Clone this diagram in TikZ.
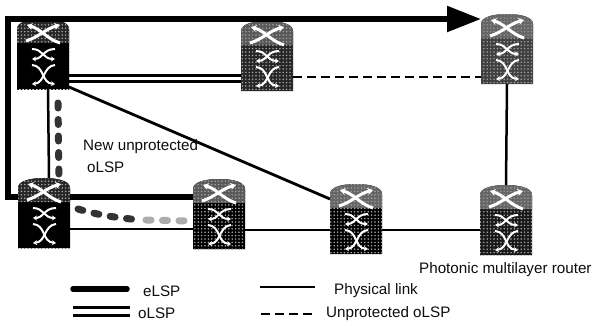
\documentclass[tikz,border=0pt]{standalone}
\usepackage{fontspec}
\setmainfont{Liberation Sans}
\usetikzlibrary{arrows.meta,patterns}
\pgfdeclarepatternformonly{routerdots}{\pgfqpoint{-1pt}{-1pt}}{\pgfqpoint{3pt}{3pt}}{\pgfqpoint{3.4pt}{3.4pt}}{%
  \pgfpathcircle{\pgfqpoint{1pt}{1pt}}{0.85pt}\pgfusepath{fill}}
\tikzset{
  routerbox/.style={rectangle,minimum width=52pt,minimum height=70pt,inner sep=0pt,outer sep=0pt},
  icon/.style={draw=white,line width=2pt,-{Stealth[length=4pt,width=5pt]}},
  iconb/.style={draw=white,line width=3pt,-{Stealth[length=5.5pt,width=7pt]}},
  elsp/.style={line width=5.5pt,black},
  olspline/.style={line width=3pt,black},
  phys/.style={line width=2.5pt,black},
  unprot/.style={line width=2.5pt,black,dash pattern=on 9pt off 5pt},
  newdark/.style={line width=7pt,line cap=round,gray!40!black,dash pattern=on 5pt off 11.5pt},
  newlight/.style={line width=7pt,line cap=round,gray!65,dash pattern=on 5pt off 11.5pt},
  lbl/.style={inner sep=0pt,font=\fontsize{15.2pt}{17pt}\selectfont,anchor=west,text=black!95}
}
\newcommand{\routerat}[7]{% name, left, top, top dots, body dots, body base, top base
  \node[routerbox] (#1) at (#2+26,#3+35) {};
  \begin{scope}[shift={(#2,#3)}]
    \fill[#6] (0,70) -- (0,10) .. controls (0,3) and (12,0) .. (26,0) .. controls (40,0) and (52,3) .. (52,10) -- (52,70) -- cycle;
    \fill[#7] (0,24) -- (0,10) .. controls (0,3) and (12,0) .. (26,0) .. controls (40,0) and (52,3) .. (52,10) -- (52,24) -- cycle;
    \fill[pattern=routerdots,pattern color=#5] (0,70) -- (0,24) -- (52,24) -- (52,70) -- cycle;
    \fill[pattern=routerdots,pattern color=#4] (0,24) -- (0,10) .. controls (0,3) and (12,0) .. (26,0) .. controls (40,0) and (52,3) .. (52,10) -- (52,24) -- cycle;
    \path[iconb] (9,22) .. controls (22,18) and (28,10) .. (43,6);
    \path[iconb] (43,24) .. controls (30,20) and (24,10) .. (10,6);
    \path[icon] (15,30) .. controls (26,30) and (26,40) .. (38,40);
    \path[icon] (38,30) .. controls (26,30) and (26,40) .. (15,40);
    \path[icon] (15,46) .. controls (28,47) and (24,64) .. (38,65);
    \path[icon] (38,46) .. controls (26,47) and (28,64) .. (15,65);
  \end{scope}
}
\begin{document}
\begin{tikzpicture}[x=1pt,y=-1pt]
\useasboundingbox (0,0) rectangle (596,325);
\fill[white] (0,0) rectangle (596,325);
\coordinate (bend1) at (8,197);
\coordinate (bend2) at (8,19);
\routerat{rA}{17}{19}{gray!70}{black}{black}{black!85}
\routerat{rB}{241}{21}{gray!75}{gray!70}{black!85}{black!65}
\routerat{rC}{481}{14}{gray!85}{gray!75}{black!75}{black!60}
\routerat{rD}{18}{178}{gray!70}{black}{black}{black!85}
\routerat{rE}{193}{179}{gray!75}{gray!65}{black}{black!65}
\routerat{rF}{330}{184}{gray!75}{gray!65}{black}{black!60}
\routerat{rG}{480}{185}{gray!80}{gray!70}{black!90}{black!60}
% eLSP
\draw[elsp,line join=miter,-{Triangle[length=34pt,width=25pt]}] ([yshift=16pt]rD.west) -- (bend1) -- (bend2) -- ([yshift=30pt]rC.west);
\draw[elsp] ([yshift=16pt]rD.east) -- ([yshift=17pt]rE.west);
% oLSP
\draw[olspline] ([yshift=-21pt]rA.east) -- ([yshift=-19pt]rB.west);
\draw[olspline] ([yshift=-27pt]rA.east) -- ([yshift=-25pt]rB.west);
% unprotected
\draw[unprot] ([yshift=-21pt]rB.east) -- ([yshift=-28pt]rC.west);
% physical links
\draw[phys] ([xshift=5pt]rA.south) -- ([xshift=5pt]rD.north);
\draw[phys,line width=2.8pt] ([yshift=-33pt]rA.east) -- ([yshift=20pt]rF.west);
\draw[phys] (rC.south) -- (rG.north);
\draw[phys] ([yshift=-16pt]rD.east) -- ([yshift=-15pt]rE.west);
\draw[phys] ([yshift=-16pt]rE.east) -- ([yshift=-11pt]rF.west);
\draw[phys] ([yshift=-11pt]rF.east) -- ([yshift=-10pt]rG.west);
% new unprotected oLSP
\draw[newdark] ([xshift=15pt,yshift=-14pt]rA.south) -- ([xshift=15pt,yshift=-3pt]rD.north);
\draw[newdark] (78,209) .. controls (95,214) and (110,217) .. (136,219.5);
\draw[newlight] (146,220) -- (190,221);
% labels
\node[lbl] (t1) at (83,147) {New unprotected};
\node[lbl] (t2) at (87,167) {oLSP};
\node[lbl] (t3) at (419,270) {Photonic multilayer router};
\node[lbl] (t4) at (143,291) {eLSP};
\node[lbl] (t5) at (138,313) {oLSP};
\node[lbl] (t6) at (334,291) {Physical link};
\node[lbl] (t7) at (326,314) {Unprotected oLSP};
% legend
\coordinate (l1a) at (73,289); \coordinate (l1b) at (127,289);
\coordinate (l2a) at (73,307); \coordinate (l2b) at (130,307);
\coordinate (l3a) at (73,315); \coordinate (l3b) at (130,315);
\coordinate (l4a) at (260,287); \coordinate (l4b) at (315,287);
\coordinate (l5a) at (261,314); \coordinate (l5b) at (315,314);
\draw[elsp,line cap=round] (l1a) -- (l1b);
\draw[olspline] (l2a) -- (l2b);
\draw[olspline] (l3a) -- (l3b);
\draw[phys] (l4a) -- (l4b);
\draw[unprot] (l5a) -- (l5b);
\end{tikzpicture}
\end{document}
